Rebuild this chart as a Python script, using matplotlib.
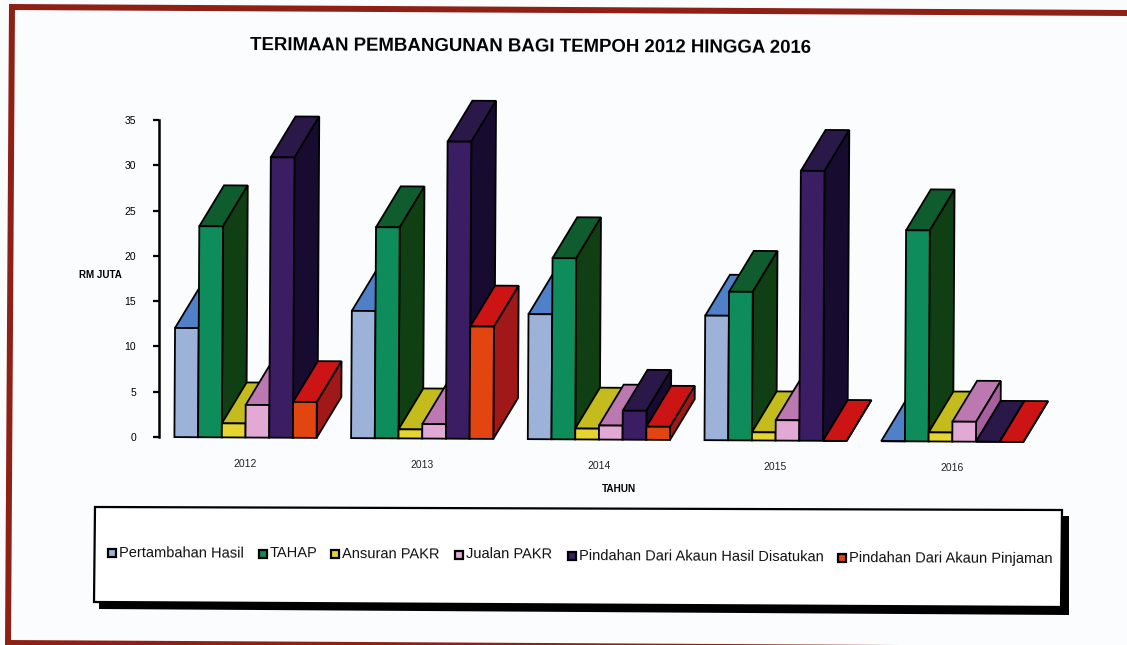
import matplotlib
matplotlib.use("Agg")
import matplotlib.pyplot as plt
from matplotlib.patches import Polygon, Rectangle
from matplotlib.transforms import Affine2D

plt.rcParams["font.family"] = ["Liberation Sans", "DejaVu Sans"]

years = ["2012", "2013", "2014", "2015", "2016"]
series = ["Pertambahan Hasil", "TAHAP", "Ansuran PAKR", "Jualan PAKR",
          "Pindahan Dari Akaun Hasil Disatukan", "Pindahan Dari Akaun Pinjaman"]
pertambahan = [12.05, 14.05, 13.8, 13.75, 0]
tahap = [23.3, 23.3, 20.0, 16.4, 23.3]
ansuran = [1.55, 1.0, 1.2, 0.9, 1.0]
jualan = [3.6, 1.6, 1.55, 2.25, 2.2]
pindahan_hasil = [30.95, 32.8, 3.2, 29.8, 0]
pindahan_pinjaman = [3.95, 12.4, 1.45, 0, 0]
values = [pertambahan, tahap, ansuran, jualan, pindahan_hasil, pindahan_pinjaman]

front_col = ["#9DB2D9", "#0F8C5C", "#E6D430", "#E2A9D5", "#3A1D62", "#E2450F"]
top_col = ["#4F80C8", "#0F5C2E", "#C4BC1C", "#BC78B0", "#2A1848", "#CC1414"]
side_col = ["#3E66A0", "#0F3F12", "#8F8C16", "#A85FA0", "#170C30", "#A01818"]

W, H = 1127, 645
fig = plt.figure(figsize=(W / 100, H / 100), dpi=100, facecolor="#FBFCFE")

# pixel layer for the scanned page frame, title and legend box
page = fig.add_axes([0, 0, 1, 1], zorder=0)
page.set_xlim(0, W)
page.set_ylim(H, 0)
page.axis("off")
frame = "#8E2016"
page.add_patch(Polygon([(9, 4), (W, 10), (W, 16), (9, 10)], color=frame, lw=0))
page.add_patch(Polygon([(9, 4), (15, 4), (11, H), (5, H)], color=frame, lw=0))
page.add_patch(Polygon([(5, 640), (900, 645), (5, 645)], color=frame, lw=0))

page.text(531, 47, "TERIMAAN PEMBANGUNAN BAGI TEMPOH 2012 HINGGA 2016", fontsize=13.45,
          fontweight="bold", ha="center", va="center", rotation=-0.3, color="black")
page.text(100, 275, "RM JUTA", fontsize=7, fontweight="bold", ha="center", va="center")
page.text(619, 489, "TAHUN", fontsize=7.2, fontweight="bold", ha="center", va="center")

# legend box with its drop shadow
page.add_patch(Polygon([(100, 514), (1069, 516), (1069, 615), (99, 609)], color="black", lw=0))
page.add_patch(Polygon([(95, 507), (1062, 510), (1061, 607), (94, 602)],
                       facecolor="white", edgecolor="black", lw=1.6))
legend_x = [108, 259, 331, 455, 568, 838]
legend_y = [553, 553.5, 554, 554.5, 556, 558]
for i in range(6):
    page.add_patch(Rectangle((legend_x[i], legend_y[i] - 4), 8, 8, facecolor=front_col[i],
                             edgecolor="black", lw=1.6))
    page.text(legend_x[i] + 11, legend_y[i], series[i], fontsize=10.5, ha="left", va="center",
              rotation=-0.3, rotation_mode="anchor", color="#111111")

# chart axes, value scale runs 0..35 over the real axis
ax = fig.add_axes([158.5 / W, 208 / H, (1062 - 158.5) / W, 317 / H], zorder=1)
ax.patch.set_alpha(0)
ax.set_xlim(-87 / 176.7, (1062 - 245.5) / 176.7)
ax.set_ylim(0, 35)
ax.set_yticks(range(0, 36, 5))
ax.tick_params(axis="y", length=4, width=1.6, labelsize=7.5, pad=12)
ax.set_xticks([])
for s in ["top", "right", "bottom"]:
    ax.spines[s].set_visible(False)
ax.spines["left"].set_linewidth(1.8)

# page was scanned slightly crooked
tilt = ax.transData + Affine2D().rotate_deg_around(158.5, 208, -0.33)

bar_w = 23.7 / 176.7
depth_x = 24.5 / 176.7
depth_y = 41 / 9.057
n = len(series)
for g in range(len(years)):
    for s in range(n):
        x0 = g + (s - n / 2) * bar_w
        x1 = x0 + bar_w
        v = values[s][g]
        faces = [
            ([(x0, v), (x1, v), (x1 + depth_x, v + depth_y), (x0 + depth_x, v + depth_y)], top_col[s]),
            ([(x1, 0), (x1 + depth_x, depth_y), (x1 + depth_x, v + depth_y), (x1, v)], side_col[s]),
            ([(x0, 0), (x1, 0), (x1, v), (x0, v)], front_col[s]),
        ]
        for pts, col in faces:
            ax.add_patch(Polygon(pts, closed=True, facecolor=col, edgecolor="black", lw=1.3,
                                 joinstyle="miter", transform=tilt, clip_on=False))
    ax.text(g, -2.9, years[g], fontsize=7.5, ha="center", va="center", transform=tilt,
            clip_on=False, color="#222222")

fig.savefig("out.png", dpi=100, facecolor=fig.get_facecolor())
